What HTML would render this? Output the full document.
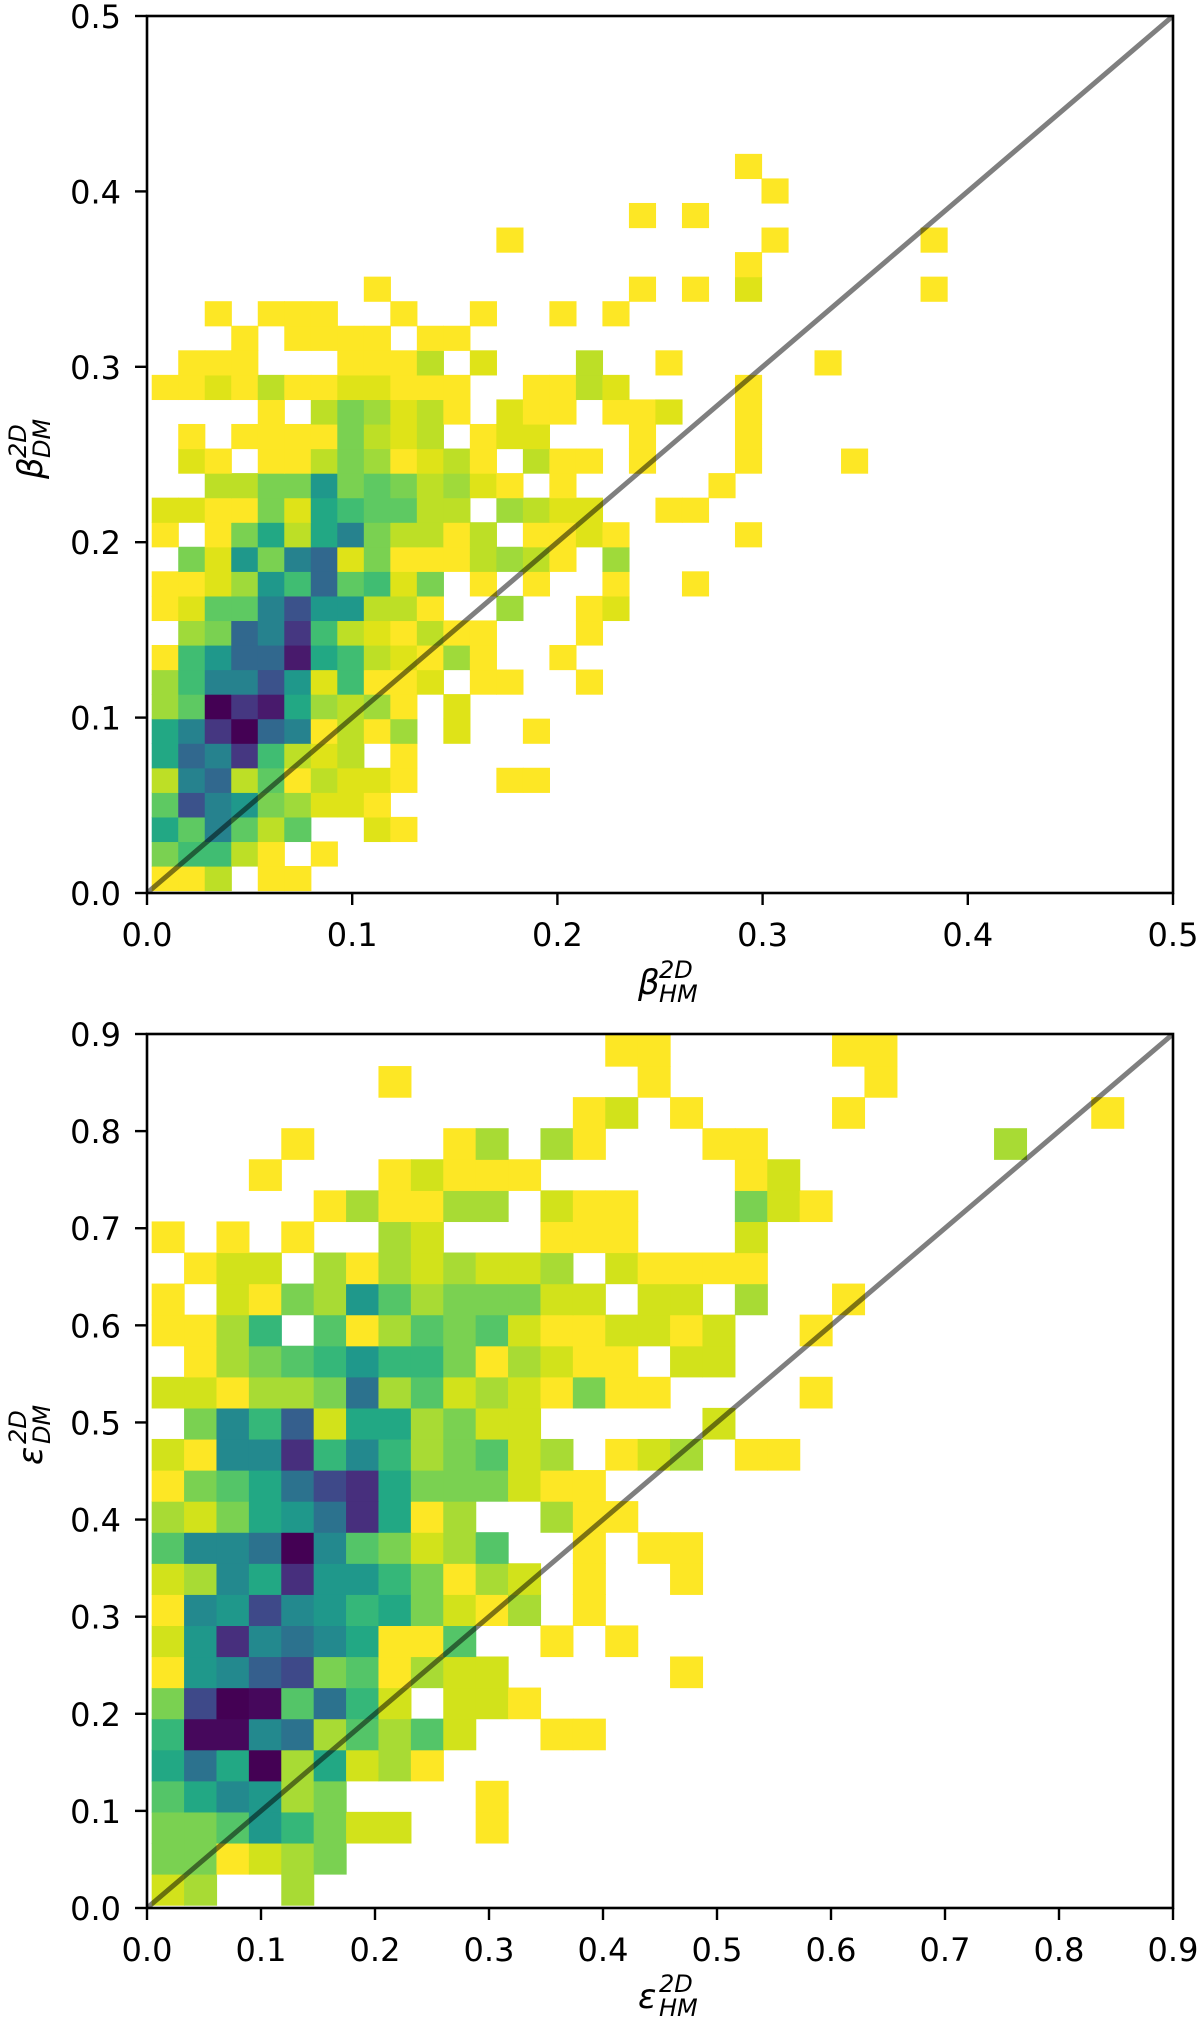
<!DOCTYPE html>
<html><head><meta charset="utf-8">
<style>
html,body{margin:0;padding:0;background:#fff;}
svg{display:block;font-family:"DejaVu Sans","Liberation Sans",sans-serif;}
</style></head>
<body>
<svg id="fig" width="1200" height="2027" viewBox="0 0 1200 2027" xmlns="http://www.w3.org/2000/svg"></svg>
<script>
// ---------- DATA: top panel (beta), rows from bottom (row 0) upward, 30 columns ----------
const topTicks = [0.0, 0.1, 0.2, 0.3, 0.4, 0.5];
const topTickLabels = ["0.0", "0.1", "0.2", "0.3", "0.4", "0.5"];
const topBinX0 = 0.0023, topBinDX = 0.01292, topBinY0 = 0.0014, topBinDY = 0.0140;
const topCounts = [
[1,1,3,0,1,1,0,0,0,0,0,0,0,0],
[5,7,7,3,1,0,1,0,0,0,0,0,0,0],
[8,6,10,6,3,6,0,0,2,1,0,0,0,0],
[6,12,10,9,5,4,2,2,1,0,0,0,0,0],
[3,10,11,3,6,1,3,2,2,1,0,0,0,1,1],
[8,11,10,13,7,3,2,3,0,1,0,0,0,0],
[8,10,13,15,11,10,1,3,1,4,0,2,0,0,1],
[4,6,15,13,14,8,4,3,4,1,0,2,0,0],
[4,7,10,10,12,9,2,7,1,1,2,0,1,1,0,0,1],
[1,7,9,11,11,14,8,7,3,2,1,4,1,0,0,1],
[0,4,5,11,10,13,7,3,2,1,3,1,1,0,0,0,1],
[1,2,6,6,10,12,9,9,3,3,1,0,0,4,0,0,1,2],
[1,1,2,4,9,7,11,6,7,2,5,0,1,0,1,0,0,1,0,0,1],
[0,5,2,9,5,10,11,2,5,1,1,1,3,4,3,1,0,4],
[1,0,1,5,8,3,8,10,5,3,3,1,3,0,1,1,2,1,0,0,0,0,1],
[2,2,1,1,5,2,8,7,6,6,3,3,0,4,3,2,2,0,0,1,1],
[0,0,3,3,5,5,9,5,6,5,3,4,2,1,0,1,0,0,0,0,0,1],
[0,2,1,0,1,1,3,5,4,1,2,3,1,0,3,1,1,0,1,0,0,0,1,0,0,0,1],
[0,1,0,1,1,1,1,5,3,2,3,0,1,2,2,0,0,0,1,0,0,0,1],
[0,0,0,0,1,0,3,5,4,2,3,1,0,2,1,1,0,1,1,2,0,0,1],
[1,1,2,1,3,1,1,2,2,1,1,1,0,0,1,1,3,2,0,0,0,0,1],
[0,1,1,1,0,0,0,1,1,1,3,0,2,0,0,0,3,0,0,1,0,0,0,0,0,1],
[0,0,0,1,0,1,1,1,1,0,1,1,0,0],
[0,0,1,0,1,1,1,0,0,1,0,0,1,0,0,1,0,1],
[0,0,0,0,0,0,0,0,1,0,0,0,0,0,0,0,0,0,1,0,1,0,2,0,0,0,0,0,0,1],
[0,0,0,0,0,0,0,0,0,0,0,0,0,0,0,0,0,0,0,0,0,0,1],
[0,0,0,0,0,0,0,0,0,0,0,0,0,1,0,0,0,0,0,0,0,0,0,1,0,0,0,0,0,1],
[0,0,0,0,0,0,0,0,0,0,0,0,0,0,0,0,0,0,1,0,1],
[0,0,0,0,0,0,0,0,0,0,0,0,0,0,0,0,0,0,0,0,0,0,0,1],
[0,0,0,0,0,0,0,0,0,0,0,0,0,0,0,0,0,0,0,0,0,0,1]
];
const topPalette = ["none","#fde725","#dfe318","#bddf26","#9fda3a","#7ad151","#5ec962","#40bd72","#22a884","#1f988b","#26828e","#31688e","#3b528b","#453781","#481a6c","#440154"];

// ---------- DATA: bottom panel (epsilon) ----------
const botXTicks = [0.0,0.1,0.2,0.3,0.4,0.5,0.6,0.7,0.8,0.9];
const botXTickLabels = ["0.0","0.1","0.2","0.3","0.4","0.5","0.6","0.7","0.8","0.9"];
const botYTicks = [0.0,0.1,0.2,0.3,0.4,0.5,0.6,0.7,0.8,0.9];
const botYTickLabels = ["0.0","0.1","0.2","0.3","0.4","0.5","0.6","0.7","0.8","0.9"];
const botBinX0 = 0.0041, botBinDX = 0.02842, botBinY0 = 0.003, botBinDY = 0.0320;
const botCounts = [
[2,3,0,0,3,0],
[4,4,1,2,3,4],
[4,4,5,8,6,4,2,2,0,0,1],
[5,7,9,8,3,4,0,0,0,0,1],
[7,10,7,15,3,7,2,3,1],
[6,14,14,9,10,3,5,3,5,2,0,0,1,1],
[4,12,15,14,5,10,6,2,0,2,2,1],
[1,8,9,11,12,4,5,1,3,2,2,0,0,0,0,0,1],
[2,8,13,9,10,9,7,1,1,5,0,0,1,0,1],
[1,9,8,12,9,8,6,7,4,2,1,3,0,1],
[2,3,9,7,13,8,8,6,4,1,3,2,0,1,0,0,1],
[5,9,9,10,15,9,5,4,2,3,5,0,0,1,0,1,1],
[3,2,4,7,8,10,13,7,1,3,0,0,3,1,1],
[1,4,5,7,10,12,13,7,4,4,4,2,1,1],
[2,1,9,9,13,6,9,6,3,4,5,2,3,0,1,2,3,0,1,1],
[0,4,9,6,11,2,7,7,3,4,2,2,0,0,0,0,0,2],
[2,2,1,3,3,4,10,3,5,2,3,2,1,4,1,1,0,0,0,0,1],
[0,1,3,4,5,6,8,6,6,4,1,3,2,1,1,0,2,2],
[1,1,3,6,0,5,1,3,5,4,5,2,1,1,2,2,1,2,0,0,1],
[1,0,2,1,4,3,8,5,3,4,4,4,2,2,0,2,2,0,3,0,0,1],
[0,1,2,2,0,3,1,3,2,3,2,2,3,0,2,1,1,1,1],
[1,0,1,0,1,0,0,3,2,0,0,0,1,1,1,0,0,0,2],
[0,0,0,0,0,1,3,1,1,3,3,0,2,1,1,0,0,0,4,2,1],
[0,0,0,1,0,0,0,1,2,1,1,1,0,0,0,0,0,0,1,2],
[0,0,0,0,1,0,0,0,0,1,3,0,3,1,0,0,0,1,1,0,0,0,0,0,0,0,3],
[0,0,0,0,0,0,0,0,0,0,0,0,0,1,2,0,1,0,0,0,0,1,0,0,0,0,0,0,0,1],
[0,0,0,0,0,0,0,1,0,0,0,0,0,0,0,1,0,0,0,0,0,0,1],
[0,0,0,0,0,0,0,0,0,0,0,0,0,0,1,1,0,0,0,0,0,1,1]
];
const botPalette = ["none","#fde725","#d2e21b","#a8db34","#7ad151","#54c568","#35b779","#22a884","#1f988b","#23898e","#2c728e","#355f8d","#3e4989","#472f7d","#46085c","#440154"];

const NS = "http://www.w3.org/2000/svg";
const svg = document.getElementById("fig");
function mk(tag, attrs, parent){
  const e = document.createElementNS(NS, tag);
  for (const k in attrs) e.setAttribute(k, attrs[k]);
  (parent||svg).appendChild(e);
  return e;
}

function drawPanel(cfg){
  const g = mk("g", {});
  
  
  const sx = v => cfg.left + (v - cfg.xmin) / (cfg.xmax - cfg.xmin) * (cfg.right - cfg.left);
  const sy = v => cfg.bottom - (v - cfg.ymin) / (cfg.ymax - cfg.ymin) * (cfg.bottom - cfg.top);
  const clipId = cfg.name + "-clip";
  const defs = mk("defs", {}, g);
  const cp = mk("clipPath", {id: clipId}, defs);
  mk("rect", {x: cfg.left, y: cfg.top, width: cfg.right - cfg.left, height: cfg.bottom - cfg.top}, cp);
  const cells = mk("g", {"clip-path": "url(#" + clipId + ")"}, g);
  
  
  cfg.counts.forEach((row, r) => {
    row.forEach((c, k) => {
      if (!c) return;
      const x0 = cfg.bx0 + k * cfg.bdx, x1 = x0 + cfg.bdx;
      const y0 = cfg.by0 + r * cfg.bdy, y1 = y0 + cfg.bdy;
      const rc = mk("rect", {x: sx(x0), y: sy(y1), width: sx(x1) - sx(x0) + 0.6, height: sy(y0) - sy(y1) + 0.6,
        fill: cfg.palette[Math.min(c, cfg.palette.length - 1)]}, cells);
      
      
    });
  });
  const dmax = Math.min(cfg.xmax, cfg.ymax);
  const dl = mk("line", {x1: sx(0), y1: sy(0), x2: sx(dmax), y2: sy(dmax), stroke: "#000", "stroke-opacity": 0.5, "stroke-width": 5}, cells);
  
  
  const fr = mk("rect", {x: cfg.left, y: cfg.top, width: cfg.right - cfg.left, height: cfg.bottom - cfg.top, fill: "none", stroke: "#000", "stroke-width": 2.6}, g);
  
  
  cfg.xticks.forEach((t, i) => {
    const x = sx(t);
    const tk = mk("line", {x1: x, y1: cfg.bottom, x2: x, y2: cfg.bottom + 12, stroke: "#000", "stroke-width": 2.4}, g);
    
    
    const tl = mk("text", {x: x, y: cfg.bottom + 53, "text-anchor": "middle", "font-size": 32, fill: "#000"}, g);
    tl.textContent = cfg.xlabels[i];
    
    
  });
  cfg.yticks.forEach((t, i) => {
    const y = sy(t);
    const tk = mk("line", {x1: cfg.left - 12, y1: y, x2: cfg.left, y2: y, stroke: "#000", "stroke-width": 2.4}, g);
    
    
    const tl = mk("text", {x: cfg.left - 26, y: y + 12, "text-anchor": "end", "font-size": 32, fill: "#000"}, g);
    tl.textContent = cfg.ylabels[i];
    
    
  });
  function title(cx, cy, rot, main, sup, sub, name){
    const tg = mk("g", {transform: "translate(" + cx + "," + cy + ")" + (rot ? " rotate(-90)" : "")}, g);
    
    
    const a = mk("text", {x: -22, y: 12, "font-size": 34, "font-style": "italic"}, tg); a.textContent = main;
    const b = mk("text", {x: -1, y: -4, "font-size": 24, "font-style": "italic"}, tg); b.textContent = sup;
    const c = mk("text", {x: -1, y: 20, "font-size": 24, "font-style": "italic"}, tg); c.textContent = sub;
  }
  title((cfg.left + cfg.right) / 2, cfg.xTitleY, false, cfg.sym, "2D", "HM", "x-axis-title");
  title(cfg.yTitleX, cfg.yTitleY, true, cfg.sym, "2D", "DM", "y-axis-title");
}

drawPanel({name: "beta-panel", left: 147, right: 1173, top: 16, bottom: 893,
  xmin: 0, xmax: 0.5, ymin: 0, ymax: 0.5,
  counts: topCounts, palette: topPalette, bx0: topBinX0, bdx: topBinDX, by0: topBinY0, bdy: topBinDY,
  xticks: topTicks, xlabels: topTickLabels, yticks: topTicks, ylabels: topTickLabels,
  sym: "β", xTitleY: 982, yTitleX: 30, yTitleY: 457});

drawPanel({name: "epsilon-panel", left: 147, right: 1173, top: 1034, bottom: 1908,
  xmin: 0, xmax: 0.9, ymin: 0, ymax: 0.9,
  counts: botCounts, palette: botPalette, bx0: botBinX0, bdx: botBinDX, by0: botBinY0, bdy: botBinDY,
  xticks: botXTicks, xlabels: botXTickLabels, yticks: botYTicks, ylabels: botYTickLabels,
  sym: "ε", xTitleY: 1996, yTitleX: 30, yTitleY: 1443});
</script>
</body></html>
